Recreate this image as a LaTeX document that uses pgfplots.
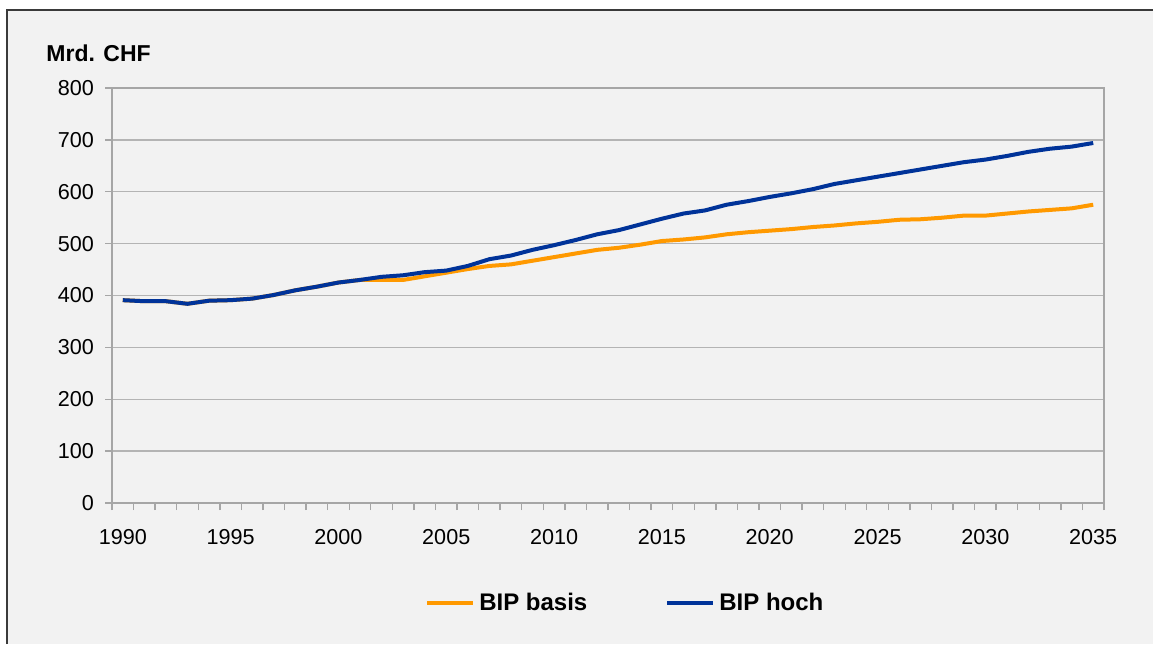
\documentclass[border=0pt]{standalone}
\usepackage{fontspec}
\setmainfont{Liberation Sans}
\usepackage{pgfplots}
\pgfplotsset{compat=1.18}
\usepackage{pgfplotstable}

\definecolor{bgfill}{HTML}{F2F2F2}
\definecolor{framecol}{HTML}{3A3A3A}
\definecolor{axcol}{HTML}{A6A6A6}
\definecolor{gridcol}{HTML}{B4B4B4}
\definecolor{basis}{HTML}{FF9900}
\definecolor{hoch}{HTML}{003399}

% GDP in billion CHF
\pgfplotstableread{
year basis hoch
1990 391 391
1991 389 389
1992 389 389
1993 384 384
1994 390 390
1995 391 391
1996 394 394
1997 401 401
1998 410 410
1999 417 417
2000 425 425
2001 430 430
2002 430 436
2003 430 439
2004 437 445
2005 444 448
2006 451 457
2007 457 470
2008 460 477
2009 467 488
2010 474 497
2011 481 507
2012 488 518
2013 492 526
2014 498 537
2015 505 548
2016 508 558
2017 512 564
2018 518 575
2019 522 582
2020 525 590
2021 528 597
2022 532 605
2023 535 615
2024 539 622
2025 542 629
2026 546 636
2027 547 643
2028 550 650
2029 554 657
2030 554 662
2031 558 669
2032 562 677
2033 565 683
2034 568 687
2035 575 694
}\gdpdata

\begin{document}
\begin{tikzpicture}
  % 1 px = 0.5 pt
  \useasboundingbox (0pt,0pt) rectangle (576.5pt,322pt);
  % chart area background and frame
  \fill[bgfill] (3.25pt,0pt) rectangle (576.5pt,316.75pt);
  \draw[framecol,line width=1pt] (3.25pt,0pt) -- (3.25pt,316.75pt) -- (576.5pt,316.75pt);
  \node[anchor=base west,inner sep=0pt,font=\fontsize{11.5}{13}\selectfont\bfseries] at (23pt,291pt) {Mrd. CHF};
  \begin{axis}[
    at={(56pt,70.5pt)}, anchor=origin,
    scale only axis,
    width=496pt, height=207.5pt,
    xmin=1989.5, xmax=2035.5,
    ymin=0, ymax=800,
    axis line style={axcol,line width=0.7pt},
    xtick={1990,1995,...,2035},
    xticklabels={1990,1995,2000,2005,2010,2015,2020,2025,2030,2035},
    minor xtick={1989.5,1990.5,...,2035.5},
    ytick={0,100,...,800},
    yticklabels={0,100,200,300,400,500,600,700,800},
    xtick pos=bottom, ytick pos=left,
    tick align=outside,
    major x tick style={draw=none},
    minor x tick style={axcol,line width=0.7pt},
    major y tick style={axcol,line width=0.7pt},
    major tick length=3.5pt, minor tick length=3.5pt,
    ymajorgrids,
    grid style={gridcol,line width=0.7pt},
    ticklabel style={font=\fontsize{10.8}{12}\selectfont},
    xticklabel style={yshift=-6pt},
    yticklabel style={xshift=-2pt},
    legend columns=2,
    legend style={draw=none, fill=none, at={(0.5185,-0.241)}, anchor=center,
      font=\fontsize{12}{14}\selectfont\bfseries,
      /tikz/every even column/.append style={column sep=37pt},
      inner sep=0pt},
    legend image code/.code={\draw[#1] (0pt,0pt) -- (23pt,0pt);},
  ]
    \addplot[basis, line width=2pt, line join=round] table[x=year,y=basis] {\gdpdata};
    \addlegendentry{BIP basis}
    \addplot[hoch, line width=2pt, line join=round] table[x=year,y=hoch] {\gdpdata};
    \addlegendentry{BIP hoch}
  \end{axis}
\end{tikzpicture}
\end{document}
